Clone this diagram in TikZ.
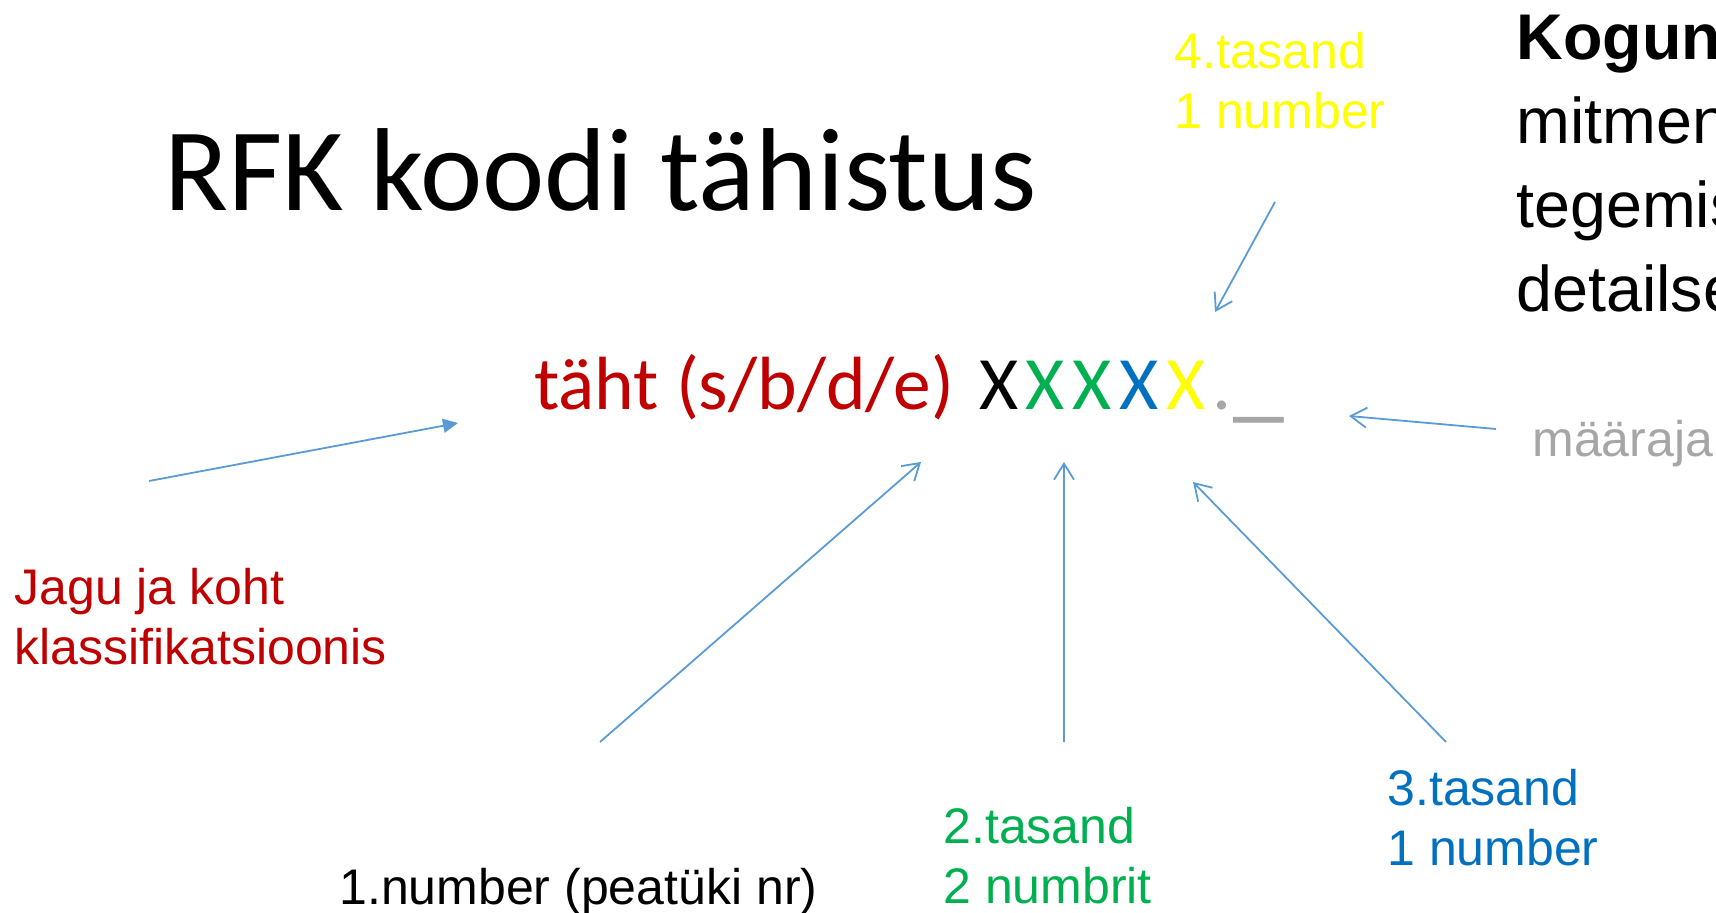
\documentclass[tikz,border=0pt]{standalone}
\usepackage{fontspec}
\setmainfont{Liberation Sans}
\newfontfamily\slidefont{Carlito}
\usetikzlibrary{arrows.meta}
\definecolor{ptrblue}{HTML}{5B9BD5}
\definecolor{jagu}{HTML}{C00000}
\definecolor{lvltwo}{HTML}{00B050}
\definecolor{lvlthree}{HTML}{0070C0}
\definecolor{lvlfour}{HTML}{FFFF00}
\definecolor{mgray}{HTML}{A6A6A6}
\newcommand{\xsp}{\kern3.8pt}
\tikzset{
  lbl/.style={anchor=base west, inner sep=0pt, align=left, font=\fontsize{25pt}{30pt}\selectfont},
  ptr/.style={ptrblue, line width=0.9pt, -{Straight Barb[length=8pt,width=10pt]}},
  ptrfill/.style={ptrblue, line width=0.9pt, -{Triangle[length=7.5pt,width=7pt]}},
}

\begin{document}
\begin{tikzpicture}[x=0.5pt,y=-0.5pt]
 \useasboundingbox (0,0) rectangle (1716,913);
 \clip (0,0) rectangle (1716,913);
 % heading and the code itself
 \node[anchor=base west, inner sep=0pt, font=\slidefont\fontsize{59pt}{70pt}\selectfont] (title) at (164,211) {RFK koodi tähistus};
 \node[anchor=base west, inner sep=0pt, font=\slidefont\fontsize{37.7pt}{45pt}\selectfont] (code) at (534,410)
  {\textcolor{jagu}{täht (s/b/d/e)} \kern4pt X\xsp\textcolor{lvltwo}{X\xsp X}\xsp\textcolor{lvlthree}{X}\xsp\textcolor{lvlfour}{X}\kern3.5pt
   \textcolor{mgray}{.\kern1pt{\fontsize{51pt}{54pt}\selectfont\_}}};
 % side text, runs off the edge (multi-line nodes sit on their last line)
 \node[lbl, font=\fontsize{32.3pt}{42pt}\selectfont] (kogu) at (1516,312) {\textbf{Kogun}\\mitmen\\tegemis\\detailse};
 % labels
 \node[lbl, lvlfour] (l4) at (1174,129) {4.tasand\\1 number};
 \node[lbl, mgray] (mr) at (1532,457) {määraja};
 \node[lbl, jagu] (jk) at (14,664) {Jagu ja koht\\klassifikatsioonis};
 \node[lbl] (l1) at (339,904) {1.number (peatüki nr)};
 \node[lbl, lvltwo] (l2) at (943,903) {2.tasand\\2 numbrit};
 \node[lbl, lvlthree] (l3) at (1387,865) {3.tasand\\1 number};
 % arrow ends
 \coordinate (l4s) at (1275,202); \coordinate (l4e) at (1215,312);
 \coordinate (mrs) at (1496,429); \coordinate (mre) at (1349,416);
 \coordinate (jks) at (149,481);  \coordinate (jke) at (458,423);
 \coordinate (l1s) at (600,742);  \coordinate (l1e) at (921,462);
 \coordinate (l2s) at (1064,742); \coordinate (l2e) at (1064,462);
 \coordinate (l3s) at (1446,742); \coordinate (l3e) at (1193,482);
 % pointers
 \draw[ptr] (l4s) -- (l4e);
 \draw[ptr] (mrs) -- (mre);
 \draw[ptrfill] (jks) -- (jke);
 \draw[ptr] (l1s) -- (l1e);
 \draw[ptr] (l2s) -- (l2e);
 \draw[ptr] (l3s) -- (l3e);
\end{tikzpicture}
\end{document}
